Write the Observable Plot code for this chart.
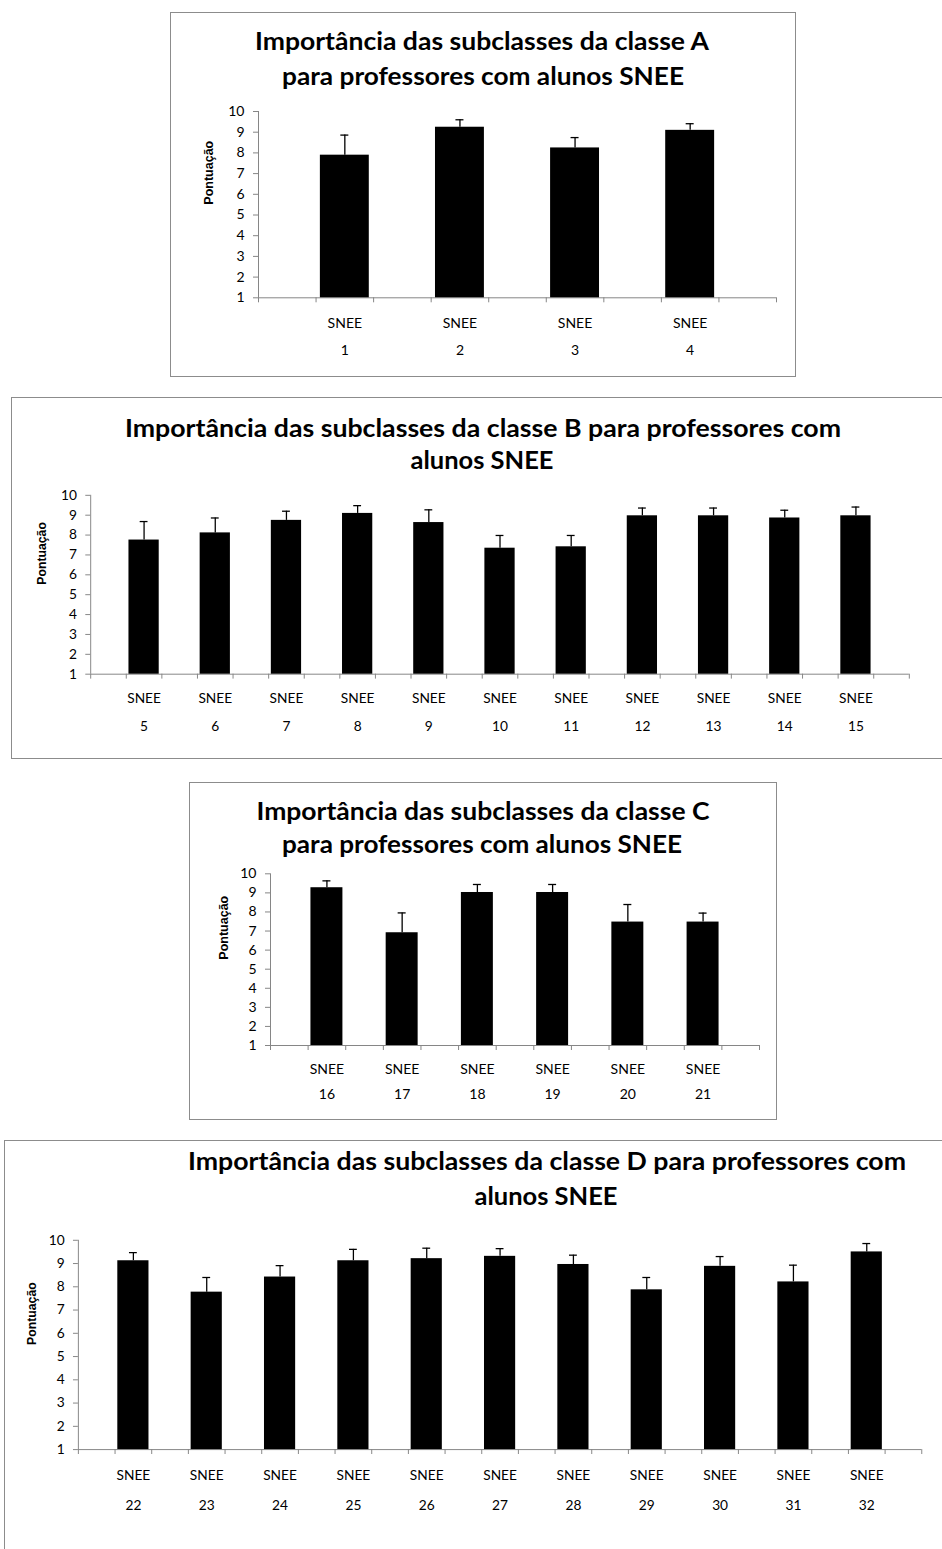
<!DOCTYPE html>
<html>
<head>
<meta charset="utf-8">
<script src="https://cdn.jsdelivr.net/npm/d3@7"></script>
<script src="https://cdn.jsdelivr.net/npm/@observablehq/plot@0.6"></script>
<style>
html, body { margin: 0; padding: 0; background: #fff; width: 942px; height: 1549px; overflow: hidden; position: relative; }
.box { position: absolute; border: 1px solid #8c8c8c; box-sizing: border-box; }
.plot { position: absolute; }
#titles { position: absolute; left: 0; top: 0; }
</style>
</head>
<body>
<script>
// ---------- data ----------
const xTopLabel = "SNEE";
const yLabel = "Pontuação";
const yTicks = [1, 2, 3, 4, 5, 6, 7, 8, 9, 10];

const titleA = ["Importância das subclasses da classe A", "para professores com alunos SNEE"];
const subclassesA = [1, 2, 3, 4];
const meansA = [7.89, 9.24, 8.24, 9.09];
const errA = [0.97, 0.36, 0.50, 0.32];

const titleB = ["Importância das subclasses da classe B para professores com", "alunos SNEE"];
const subclassesB = [5, 6, 7, 8, 9, 10, 11, 12, 13, 14, 15];
const meansB = [7.75, 8.11, 8.74, 9.09, 8.63, 7.34, 7.41, 8.97, 8.97, 8.86, 8.97];
const errB = [0.93, 0.75, 0.46, 0.39, 0.64, 0.64, 0.57, 0.39, 0.39, 0.39, 0.44];

const titleC = ["Importância das subclasses da classe C", "para professores com alunos SNEE"];
const subclassesC = [16, 17, 18, 19, 20, 21];
const meansC = [9.27, 6.91, 9.02, 9.02, 7.47, 7.47];
const errC = [0.36, 1.04, 0.42, 0.42, 0.92, 0.47];

const titleD = ["Importância das subclasses da classe D para professores com", "alunos SNEE"];
const subclassesD = [22, 23, 24, 25, 26, 27, 28, 29, 30, 31, 32];
const meansD = [9.12, 7.77, 8.42, 9.12, 9.21, 9.31, 8.96, 7.87, 8.88, 8.21, 9.50];
const errD = [0.35, 0.63, 0.49, 0.49, 0.45, 0.33, 0.40, 0.53, 0.42, 0.72, 0.36];

// ---------- layout (pixels) ----------
const gray = "#868686";
const barFraction = 0.85;
const layouts = [
  {title: titleA, sub: subclassesA, means: meansA, errs: errA,
   left: 170, top: 12, w: 626, h: 365, ax0: 258, ax1: 776, y10: 111, y1: 297.3, pad1: 20, pad2: 47, labelDx: -50,
   lines: [{cx: 482, base: 50, len: 454}, {cx: 483, base: 85, len: 402}]},
  {title: titleB, sub: subclassesB, means: meansB, errs: errB,
   left: 11, top: 397, w: 960, h: 362, ax0: 91.7, ax1: 926, y10: 496.7, y1: 679, pad1: 19, pad2: 48, labelDx: -50,
   lines: [{cx: 483, base: 437, len: 716}, {cx: 482, base: 469, len: 143}]},
  {title: titleC, sub: subclassesC, means: meansC, errs: errC,
   left: 189, top: 782, w: 588, h: 338, ax0: 270, ax1: 759, y10: 873.3, y1: 1045, pad1: 19, pad2: 44, labelDx: -47,
   lines: [{cx: 483, base: 820, len: 453}, {cx: 482, base: 853, len: 400}]},
  {title: titleD, sub: subclassesD, means: meansD, errs: errD,
   left: 4, top: 1140, w: 960, h: 450, ax0: 79.3, ax1: 938.8, y10: 1241.7, y1: 1455, pad1: 21, pad2: 52, labelDx: -47,
   lines: [{cx: 547, base: 1170, len: 718}, {cx: 546, base: 1205, len: 143}]}
];

function drawChart(L) {
  const box = document.createElement("div");
  box.className = "box";
  Object.assign(box.style, {left: L.left + "px", top: L.top + "px", width: L.w + "px", height: L.h + "px"});
  document.body.appendChild(box);

  const nSlots = 2 * L.sub.length + 1;
  const rows = L.sub.map((s, i) => ({label: String(s), slot: 2 * i + 1, mean: L.means[i], top: L.means[i] + L.errs[i]}));
  const centers = rows.map(d => d.slot + 0.5);
  const labelAt = new Map(rows.map(d => [d.slot + 0.5, d.label]));
  const inset = (1 - barFraction) / 2;

  const plot = Plot.plot({
    width: L.w, height: L.h,
    marginLeft: L.ax0 - L.left, marginRight: L.left + L.w - L.ax1,
    marginTop: L.y10 - L.top, marginBottom: L.top + L.h - L.y1,
    style: {fontFamily: "Lato, sans-serif", fontSize: "14px", color: "#000", background: "none", overflow: "visible"},
    x: {domain: [0, nSlots], axis: null},
    y: {domain: [1, 10], axis: null},
    marks: [
      Plot.ruleX([0], {stroke: gray}),
      Plot.ruleY([1], {stroke: gray}),
      Plot.axisY({ticks: yTicks, tickSize: 5, tickPadding: 9, stroke: gray, fill: "#000", tickFormat: d => String(d), label: null}),
      Plot.axisX({ticks: d3.range(0, nSlots + 1), tickSize: 5, stroke: gray, tickFormat: () => "", label: null}),
      Plot.axisX({ticks: centers, tickSize: 0, tickPadding: L.pad1, fill: "#000", tickFormat: () => xTopLabel, label: null}),
      Plot.axisX({ticks: centers, tickSize: 0, tickPadding: L.pad2, fill: "#000", tickFormat: v => labelAt.get(v), label: null}),
      Plot.rectY(rows, {x1: d => d.slot + inset, x2: d => d.slot + 1 - inset, y1: () => 1, y2: "mean", fill: "#000"}),
      Plot.ruleX(rows, {x: d => d.slot + 0.5, y1: "mean", y2: "top", stroke: "#000", strokeWidth: 1.3}),
      Plot.ruleY(rows, {y: "top", x1: d => d.slot + 0.5, x2: d => d.slot + 0.5, insetLeft: -4, insetRight: -4, stroke: "#000", strokeWidth: 1.3}),
      Plot.text([yLabel], {frameAnchor: "left", rotate: -90, dx: L.labelDx, fontFamily: "'Liberation Sans', Arial, sans-serif", fontWeight: "bold", fontSize: 12.5, fill: "#000"})
    ]
  });
  plot.classList.add("plot");
  plot.style.left = L.left + "px";
  plot.style.top = L.top + "px";
  document.body.appendChild(plot);
}

layouts.forEach(drawChart);

// titles
const tsvg = d3.select("body").append("svg").attr("id", "titles").attr("width", 942).attr("height", 1549);
layouts.forEach(L => {
  L.title.forEach((t, i) => {
    const ln = L.lines[i];
    tsvg.append("text")
      .attr("x", ln.cx - ln.len / 2)
      .attr("y", ln.base)
      .attr("textLength", ln.len)
      .attr("lengthAdjust", "spacingAndGlyphs")
      .attr("font-family", "Lato, sans-serif")
      .attr("font-weight", "bold")
      .attr("font-size", 24)
      .attr("fill", "#000")
      .text(t);
  });
});
</script>
</body>
</html>
